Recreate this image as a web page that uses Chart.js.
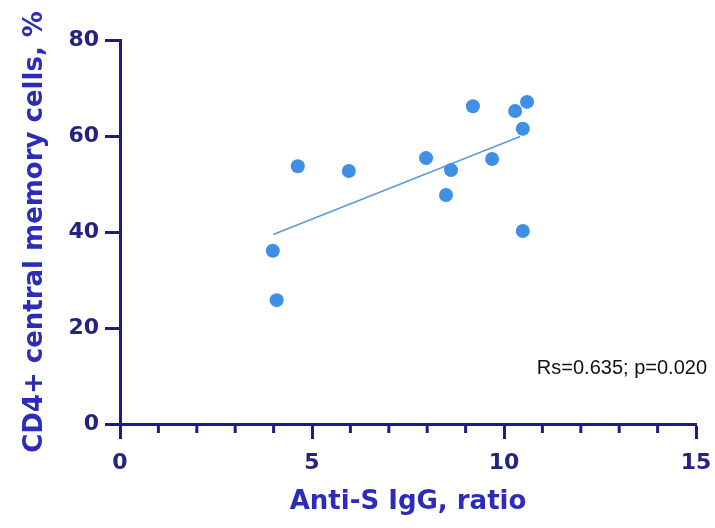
<!DOCTYPE html>
<html>
<head>
<meta charset="utf-8">
<script src="https://cdn.jsdelivr.net/npm/chart.js@4.4.0/dist/chart.umd.min.js"></script>
<style>
html,body{margin:0;padding:0;background:#fff;}
#wrap{width:715px;height:528px;}
</style>
</head>
<body>
<div id="wrap"><canvas id="c" width="715" height="528"></canvas></div>
<script>
const antiS = [3.98, 4.08, 4.63, 5.96, 7.97, 8.62, 8.49, 9.19, 9.69, 10.29, 10.60, 10.49, 10.49];
const cd4cm = [36.1, 25.8, 53.7, 52.7, 55.4, 52.9, 47.7, 66.2, 55.2, 65.2, 67.1, 61.5, 40.2];
const fitX = [3.99, 10.42];
const fitY = [39.5, 59.9];
const xTicks = [0, 5, 10, 15];
const yTicks = [0, 20, 40, 60, 80];
const statText = 'Rs=0.635; p=0.020';

const AXIS = '#1c1c8e';
const LABEL = '#24247e';
const TITLE = '#2c2cb8';

const minorTicks = {
  id: 'minorTicks',
  afterDraw(chart) {
    const xs = chart.scales.x;
    const ctx = chart.ctx;
    ctx.save();
    ctx.strokeStyle = AXIS;
    ctx.lineWidth = 3;
    for (let v = xs.min; v <= xs.max; v++) {
      if (xTicks.includes(v)) continue;
      const px = xs.getPixelForValue(v);
      ctx.beginPath();
      ctx.moveTo(px, xs.top);
      ctx.lineTo(px, xs.top + 9);
      ctx.stroke();
    }
    ctx.fillStyle = '#111';
    ctx.font = '20px "Liberation Sans", Arial, sans-serif';
    ctx.textAlign = 'right';
    ctx.textBaseline = 'middle';
    const ys = chart.scales.y;
    ctx.fillText(statText, xs.getPixelForValue(xs.max) + 11, ys.getPixelForValue(11.5));
    ctx.restore();
  }
};

new Chart(document.getElementById('c'), {
  type: 'scatter',
  data: {
    datasets: [
      {
        type: 'line',
        data: fitX.map((x, i) => ({x, y: fitY[i]})),
        borderColor: '#5f9ad8',
        borderWidth: 1.6,
        pointRadius: 0,
        fill: false,
        order: 2
      },
      {
        data: antiS.map((x, i) => ({x, y: cd4cm[i]})),
        backgroundColor: '#3f8fe6',
        borderColor: '#3f8fe6',
        borderWidth: 0,
        pointRadius: 7,
        order: 1
      }
    ]
  },
  options: {
    responsive: false,
    animation: false,
    events: [],
    layout: { padding: { top: 40, right: 19, left: 0, bottom: 0 } },
    plugins: { legend: { display: false }, tooltip: { enabled: false } },
    scales: {
      x: {
        type: 'linear',
        min: 0, max: 15,
        afterBuildTicks(s) { s.ticks = xTicks.map(v => ({value: v})); },
        afterFit(s) { s.height = 104; s.paddingLeft = 0; s.paddingRight = 0; },
        border: { color: AXIS, width: 3 },
        grid: { drawOnChartArea: false, drawTicks: true, tickLength: 15, tickWidth: 3, tickColor: AXIS, color: AXIS },
        ticks: { color: LABEL, padding: 11, font: { family: '"DejaVu Sans"', weight: 'bold', size: 22 } },
        title: { display: true, text: 'Anti-S IgG, ratio', color: TITLE, padding: { top: 0, bottom: 10 },
                 font: { family: '"DejaVu Sans"', weight: 'bold', size: 26 } }
      },
      y: {
        type: 'linear',
        min: 0, max: 80,
        afterBuildTicks(s) { s.ticks = yTicks.map(v => ({value: v})); },
        afterFit(s) { s.width = 120; s.paddingTop = 0; s.paddingBottom = 0; },
        border: { color: AXIS, width: 3 },
        grid: { drawOnChartArea: false, drawTicks: true, tickLength: 15, tickWidth: 3, tickColor: AXIS, color: AXIS },
        ticks: { color: LABEL, padding: 6, font: { family: '"DejaVu Sans"', weight: 'bold', size: 22 } },
        title: { display: true, text: 'CD4+ central memory cells, %', color: TITLE, padding: { top: 20, bottom: 0 },
                 font: { family: '"DejaVu Sans"', weight: 'bold', size: 26 } }
      }
    }
  },
  plugins: [minorTicks]
});
</script>
</body>
</html>
